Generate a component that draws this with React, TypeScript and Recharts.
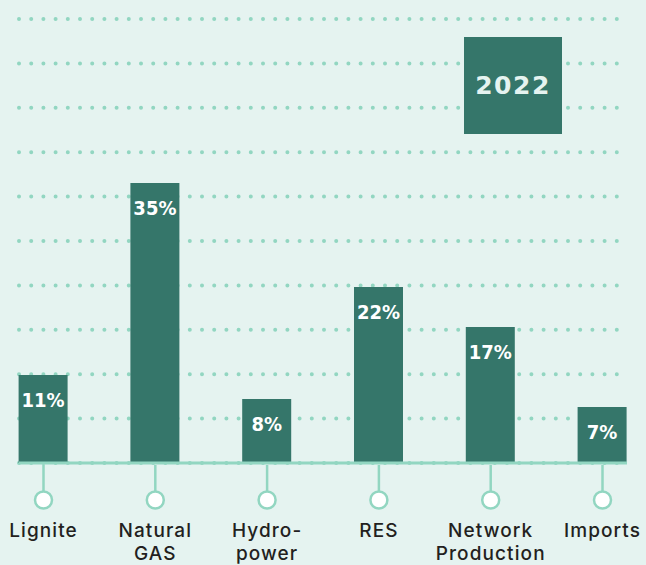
import { BarChart, Bar, XAxis, YAxis, CartesianGrid, LabelList } from "recharts"

const categories = ["Lignite", "Natural\nGAS", "Hydro-\npower", "RES", "Network\nProduction", "Imports"]
const shares = [11, 35, 8, 22, 17, 7]
const gridTicks = [5.55, 11.1, 16.65, 22.2, 27.75, 33.3, 38.85, 44.4, 49.95, 55.5]
const yearLabel = "2022"

const data = categories.map((name, i) => ({ name, share: shares[i] }))

const BG = "#e5f3f0"
const BAR = "#35766a"
const MINT = "#92d6c1"

function CategoryTick(props: any) {
  const { x, y, payload } = props
  const lines = String(payload.value).split("\n")
  return (
    <g>
      <line x1={x} x2={x} y1={y + 2} y2={y + 29} stroke={MINT} strokeWidth={2.5} />
      <circle cx={x} cy={y + 37} r={8.5} fill="#ffffff" stroke={MINT} strokeWidth={2.5} />
      {lines.map((line, i) => (
        <text
          key={i}
          x={x}
          y={y + 74 + i * 23}
          textAnchor="middle"
          fill="#231f20"
          fontSize={19}
          fontWeight={500}
          fontFamily="Inter, 'Noto Sans', sans-serif"
          letterSpacing={1.1}
        >
          {line}
        </text>
      ))}
    </g>
  )
}

function ShareLabel(props: any) {
  const { x, y, width, value } = props
  return (
    <text
      x={x + width / 2}
      y={y + 25}
      textAnchor="middle"
      dominantBaseline="central"
      fill="#ffffff"
      fontSize={20}
      fontWeight="bold"
      fontFamily="'DejaVu Sans Condensed', 'DejaVu Sans', sans-serif"
    >
      {value}%
    </text>
  )
}

export default function App() {
  return (
    <div style={{ position: "relative", width: 646, height: 565, background: BG }}>
      <style>{"body{margin:0}"}</style>
      <BarChart
        width={646}
        height={565}
        data={data}
        margin={{ top: 19, right: 19, left: 19, bottom: 0 }}
      >
        <CartesianGrid
          vertical={false}
          stroke={MINT}
          strokeWidth={4}
          strokeLinecap="round"
          strokeDasharray="0 12.2"
        />
        <YAxis hide domain={[0, 55.5]} ticks={gridTicks} />
        <XAxis
          dataKey="name"
          scale="point"
          padding={{ left: 24.5, right: 24.5 }}
          height={102}
          axisLine={{ stroke: MINT, strokeWidth: 3 }}
          tickLine={false}
          tickSize={0}
          tickMargin={0}
          interval={0}
          tick={<CategoryTick />}
        />
        <Bar dataKey="share" fill={BAR} barSize={49} isAnimationActive={false}>
          <LabelList dataKey="share" content={<ShareLabel />} />
        </Bar>
      </BarChart>
      <div
        style={{
          position: "absolute",
          left: 464,
          top: 37,
          width: 98,
          height: 97,
          background: BAR,
          color: BG,
          display: "flex",
          alignItems: "center",
          justifyContent: "center",
          fontFamily: "'DejaVu Sans', sans-serif",
          fontWeight: "bold",
          fontSize: 25,
          letterSpacing: 1.5,
        }}
      >
        {yearLabel}
      </div>
    </div>
  )
}
